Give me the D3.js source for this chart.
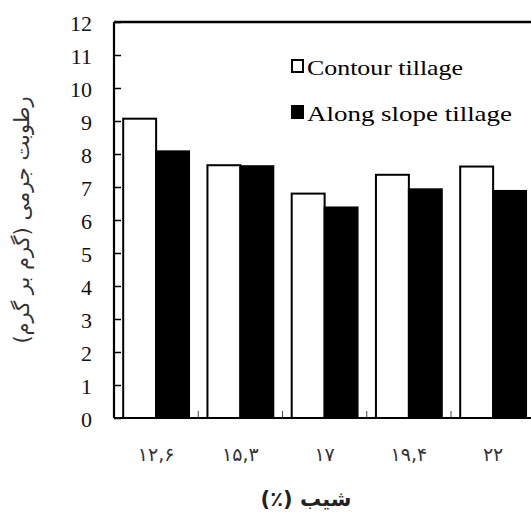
<!DOCTYPE html>
<html>
<head>
<meta charset="utf-8">
<script src="https://cdn.jsdelivr.net/npm/d3@7"></script>
<style>
  html, body { margin: 0; padding: 0; background: #fff; }
  svg { display: block; }
</style>
</head>
<body>
<script>
// ---- data ----
const categories = ["۱۲,۶", "۱۵,۳", "۱۷", "۱۹,۴", "۲۲"];
const seriesNames = ["Contour tillage", "Along slope tillage"];
const contourValues = [9.07, 7.66, 6.8, 7.37, 7.62];
const alongSlopeValues = [8.08, 7.63, 6.38, 6.93, 6.88];
const yTicks = [0,1,2,3,4,5,6,7,8,9,10,11,12];
const yTitle = "رطوبت جرمی (گرم بر گرم)";
const xTitle = "شیب (٪)";

const W = 531, H = 516;
const pLeft = 114, pTop = 22, pBottom = 418, bandW = 84.25;
const pRight = pLeft + bandW * categories.length;
const SERIF = "Times New Roman, Liberation Serif, Tinos, DejaVu Serif, serif";

const svg = d3.select("body").append("svg").attr("width", W).attr("height", H);

const x = d3.scaleBand().domain(categories).range([pLeft, pRight]).padding(0);
const xs = d3.scaleBand().domain(seriesNames).range([9.2, bandW - 9.2]).padding(0);
const y = d3.scaleLinear().domain([0, 12]).range([pBottom, pTop]);

const rows = categories.map((c, i) => ({cat: c, vals: [contourValues[i], alongSlopeValues[i]]}));

// bars
const g = svg.append("g");
rows.forEach(r => {
  r.vals.forEach((v, j) => {
    g.append("rect")
      .attr("x", x(r.cat) + xs(seriesNames[j]))
      .attr("y", y(v))
      .attr("width", xs.bandwidth())
      .attr("height", y(0) - y(v))
      .attr("fill", j === 0 ? "#fff" : "#000")
      .attr("stroke", "#000")
      .attr("stroke-width", 2);
  });
});

// y axis
const yAxis = d3.axisLeft(y).tickValues(yTicks).tickSize(-7).tickPadding(22).tickFormat(d3.format("d"));
const ya = svg.append("g").attr("transform", `translate(${pLeft},0)`).call(yAxis);
ya.attr("font-family", SERIF).attr("font-size", 22);
ya.select(".domain").remove();
ya.selectAll(".tick line").attr("stroke", "#000").attr("stroke-width", 1.5);
ya.selectAll(".tick text").attr("fill", "#111").attr("dy", "0.38em");

// category separators (bottom inward ticks)
const seps = categories.map((c, i) => pLeft + bandW * (i + 1));
svg.append("g").selectAll("line").data(seps).join("line")
  .attr("x1", d => d).attr("x2", d => d)
  .attr("y1", pBottom).attr("y2", pBottom - 7)
  .attr("stroke", "#444").attr("stroke-width", 1);

// frame
svg.append("line").attr("x1", pLeft).attr("x2", pLeft).attr("y1", pTop).attr("y2", pBottom)
  .attr("stroke", "#000").attr("stroke-width", 2.2);
svg.append("line").attr("x1", pLeft).attr("x2", pRight).attr("y1", pTop).attr("y2", pTop)
  .attr("stroke", "#000").attr("stroke-width", 2.6);
svg.append("line").attr("x1", pLeft).attr("x2", pRight).attr("y1", pBottom).attr("y2", pBottom)
  .attr("stroke", "#000").attr("stroke-width", 2.2);
svg.append("line").attr("x1", pRight).attr("x2", pRight).attr("y1", pTop).attr("y2", pBottom)
  .attr("stroke", "#000").attr("stroke-width", 2.2);

// x labels
svg.append("g").selectAll("text").data(categories).join("text")
  .attr("x", d => x(d) + bandW / 2)
  .attr("y", 461)
  .attr("text-anchor", "middle")
  .attr("font-family", "DejaVu Sans, sans-serif")
  .attr("font-size", 19)
  .attr("letter-spacing", 2)
  .attr("fill", "#333")
  .text(d => d);

// x title
svg.append("text")
  .attr("x", 306).attr("y", 506)
  .attr("text-anchor", "middle")
  .attr("font-family", "DejaVu Sans, sans-serif")
  .attr("font-size", 21).attr("font-weight", "bold")
  .attr("direction", "rtl")
  .attr("fill", "#222")
  .text(xTitle);

// y title
svg.append("text")
  .attr("transform", "translate(29,220) rotate(-90)")
  .attr("text-anchor", "middle")
  .attr("font-family", "DejaVu Sans, sans-serif")
  .attr("font-size", 21)
  .attr("direction", "rtl")
  .attr("fill", "#333")
  .text(yTitle);

// legend
const legendX = 292, legendY = [60, 106], legendW = [156, 205];
seriesNames.forEach((s, i) => {
  svg.append("rect")
    .attr("x", legendX).attr("y", legendY[i])
    .attr("width", 11).attr("height", 12)
    .attr("fill", i === 0 ? "#fff" : "#000")
    .attr("stroke", "#000").attr("stroke-width", 2);
  svg.append("text")
    .attr("x", legendX + 15).attr("y", legendY[i] + 15)
    .attr("font-family", SERIF)
    .attr("font-size", 21)
    .attr("textLength", legendW[i]).attr("lengthAdjust", "spacingAndGlyphs")
    .attr("fill", "#000")
    .text(s);
});
</script>
</body>
</html>
